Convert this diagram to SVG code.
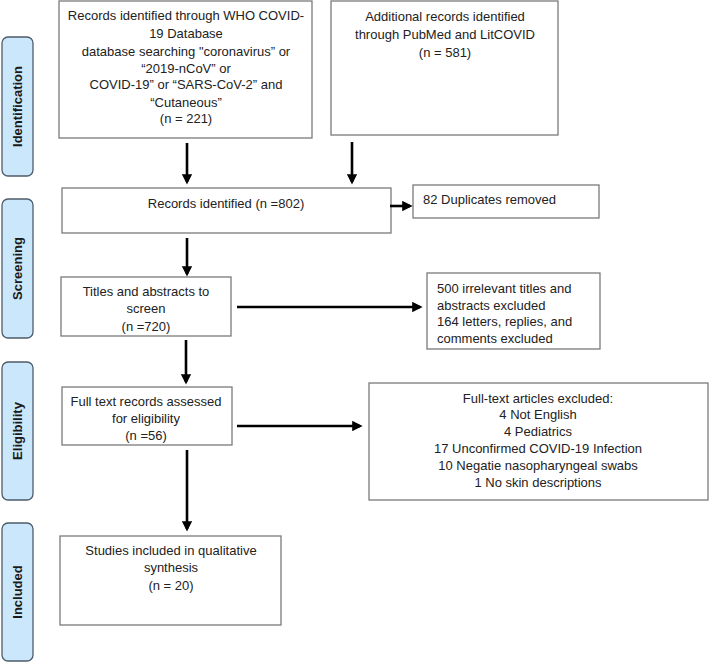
<svg xmlns="http://www.w3.org/2000/svg" width="709" height="664" viewBox="0 0 709 664">
<style>
.box{fill:#fff;stroke:#7a7a7a;stroke-width:1.3}
.side{fill:#cbe7fb;stroke:#4d5c6b;stroke-width:1.3}
.t{font-family:"Liberation Sans",Arial,sans-serif;font-size:13px;fill:#222}
.c{text-anchor:middle}
.sl{font-family:"Liberation Sans",Arial,sans-serif;font-size:13px;font-weight:bold;fill:#1a1a1a;text-anchor:middle}
.arr{stroke:#000;stroke-width:2.6;fill:none;marker-end:url(#ah)}
</style>
<defs>
<marker id="ah" markerWidth="4" markerHeight="4" refX="3" refY="2" orient="auto" markerUnits="strokeWidth">
<path d="M0,0 L4,2 L0,4 Z" fill="#000"/>
</marker>
</defs>
<rect width="709" height="664" fill="#fff"/>
<g id="side-identification"><rect class="side" x="2" y="37" width="31" height="139" rx="6"/><text class="sl" transform="translate(22,106.5) rotate(-90)">Identification</text></g>
<g id="side-screening"><rect class="side" x="2" y="199" width="31" height="139" rx="6"/><text class="sl" transform="translate(22,268.5) rotate(-90)">Screening</text></g>
<g id="side-eligibility"><rect class="side" x="2" y="362" width="31" height="138" rx="6"/><text class="sl" transform="translate(22,431) rotate(-90)">Eligibility</text></g>
<g id="side-included"><rect class="side" x="2" y="523" width="31" height="138" rx="6"/><text class="sl" transform="translate(22,592) rotate(-90)">Included</text></g>

<g id="who"><rect class="box" x="59" y="1" width="253" height="137"/>
<text class="t c" x="186" y="20">Records identified through WHO COVID-</text>
<text class="t c" x="186" y="38">19 Database</text>
<text class="t c" x="186" y="56">database searching "coronavirus” or</text>
<text class="t c" x="186" y="73">“2019-nCoV” or</text>
<text class="t c" x="186" y="89">COVID-19” or “SARS-CoV-2” and</text>
<text class="t c" x="186" y="107">“Cutaneous”</text>
<text class="t c" x="186" y="123">(n = 221)</text></g>

<g id="additional"><rect class="box" x="331" y="1" width="227" height="134"/>
<text class="t c" x="445" y="21">Additional records identified</text>
<text class="t c" x="445" y="39">through PubMed and LitCOVID</text>
<text class="t c" x="445" y="57">(n = 581)</text></g>

<g id="records"><rect class="box" x="62" y="188" width="329" height="45"/>
<text class="t c" x="226" y="208">Records identified (n =802)</text></g>

<g id="duplicates"><rect class="box" x="413" y="185" width="186" height="33"/>
<text class="t" x="423" y="204">82 Duplicates removed</text></g>

<g id="titles"><rect class="box" x="61" y="277" width="170" height="59"/>
<text class="t c" x="146" y="296">Titles and abstracts to</text>
<text class="t c" x="146" y="313">screen</text>
<text class="t c" x="146" y="331">(n =720)</text></g>

<g id="irrelevant"><rect class="box" x="427" y="273" width="173" height="76"/>
<text class="t" x="437" y="293">500 irrelevant titles and</text>
<text class="t" x="437" y="310">abstracts excluded</text>
<text class="t" x="437" y="326">164 letters, replies, and</text>
<text class="t" x="437" y="343">comments excluded</text></g>

<g id="fulltext"><rect class="box" x="62" y="387" width="170" height="58"/>
<text class="t c" x="146" y="406">Full text records assessed</text>
<text class="t c" x="146" y="423">for eligibility</text>
<text class="t c" x="146" y="440">(n =56)</text></g>

<g id="excluded"><rect class="box" x="369" y="383" width="339" height="117"/>
<text class="t c" x="538" y="403">Full-text articles excluded:</text>
<text class="t c" x="538" y="419">4 Not English</text>
<text class="t c" x="538" y="436">4 Pediatrics</text>
<text class="t c" x="538" y="453">17 Unconfirmed COVID-19 Infection</text>
<text class="t c" x="538" y="470">10 Negatie nasopharyngeal swabs</text>
<text class="t c" x="538" y="487">1 No skin descriptions</text></g>

<g id="included"><rect class="box" x="60" y="536" width="221" height="89"/>
<text class="t c" x="171" y="555">Studies included in qualitative</text>
<text class="t c" x="171" y="572">synthesis</text>
<text class="t c" x="171" y="590">(n = 20)</text></g>

<g id="connectors">
<line class="arr" x1="187" y1="143" x2="187" y2="182"/>
<line class="arr" x1="352" y1="142" x2="352" y2="182"/>
<line class="arr" x1="390" y1="206" x2="410" y2="206"/>
<line class="arr" x1="187" y1="238" x2="187" y2="274"/>
<line class="arr" x1="237" y1="307" x2="420" y2="307"/>
<line class="arr" x1="186" y1="340" x2="186" y2="382"/>
<line class="arr" x1="237" y1="426" x2="360" y2="426"/>
<line class="arr" x1="187" y1="450" x2="187" y2="529"/>
</g>
</svg>
